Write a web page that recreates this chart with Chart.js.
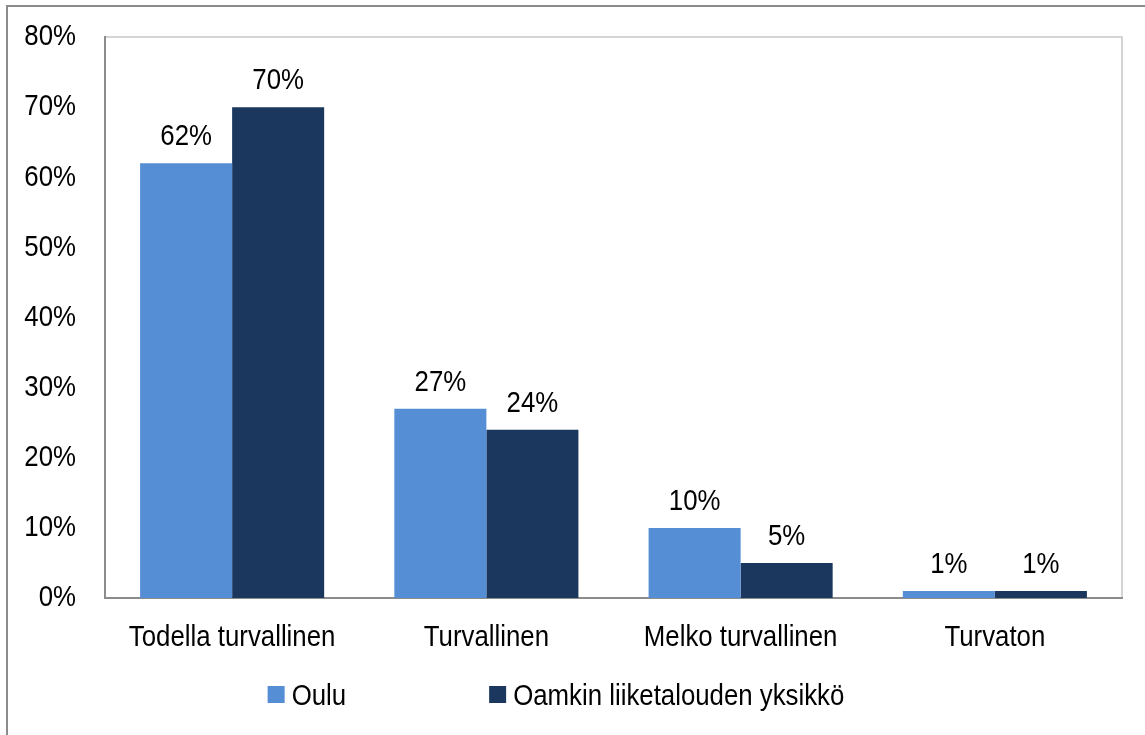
<!DOCTYPE html>
<html>
<head>
<meta charset="utf-8">
<script src="https://cdn.jsdelivr.net/npm/chart.js@4"></script>
<style>
  html, body { margin: 0; padding: 0; background: #fff; }
  canvas { display: block; }
</style>
</head>
<body>
<canvas id="chart" width="1145" height="735"></canvas>
<script>
// data
const categories = ["Todella turvallinen", "Turvallinen", "Melko turvallinen", "Turvaton"];
const ouluValues = [62, 27, 10, 1];
const oamkValues = [70, 24, 5, 1];
const seriesNames = ["Oulu", "Oamkin liiketalouden yksikkö"];
const yTicks = [0, 10, 20, 30, 40, 50, 60, 70, 80];

// no narrow font installed, so squeeze Liberation Sans a bit
const FONT = "30px 'Liberation Sans', Arial, sans-serif";
const SQUEEZE = 0.86;

function narrowText(ctx, text, x, y, align) {
    ctx.save();
    ctx.translate(x, y);
    ctx.scale(SQUEEZE, 1);
    ctx.textAlign = align;
    ctx.fillText(text, 0, 0);
    ctx.restore();
}

// axis labels + value labels, all in the squeezed font
const textLayer = {
    id: 'textLayer',
    afterDatasetsDraw(chart) {
        const ctx = chart.ctx;
        const xs = chart.scales.x, ys = chart.scales.y;
        ctx.save();
        ctx.font = FONT;
        ctx.fillStyle = "#000";

        // y tick labels
        ctx.textBaseline = "middle";
        ys.ticks.forEach(t => {
            narrowText(ctx, t.value + "%", ys.right - 29, ys.getPixelForValue(t.value), "right");
        });

        // category labels
        ctx.textBaseline = "alphabetic";
        chart.data.labels.forEach((lab, i) => {
            narrowText(ctx, lab, xs.getPixelForValue(i), xs.top + 48, "center");
        });

        // values above bars
        chart.data.datasets.forEach((ds, i) => {
            chart.getDatasetMeta(i).data.forEach((bar, j) => {
                narrowText(ctx, ds.data[j] + "%", bar.x, bar.y - 18, "center");
            });
        });
        ctx.restore();
    }
};

// frame lines + legend
const frameAndLegend = {
    id: 'frameAndLegend',
    beforeDraw(chart) {
        const ctx = chart.ctx;
        const a = chart.chartArea;
        ctx.save();
        // outer chart border (only left and top are inside the picture)
        ctx.strokeStyle = "#8c8c8c";
        ctx.lineWidth = 2;
        ctx.beginPath();
        ctx.moveTo(7, chart.height);
        ctx.lineTo(7, 6);
        ctx.lineTo(chart.width, 6);
        ctx.stroke();
        // plot area top and right
        ctx.strokeStyle = "#c8c8c8";
        ctx.lineWidth = 1.5;
        ctx.beginPath();
        ctx.moveTo(a.left, a.top);
        ctx.lineTo(a.right, a.top);
        ctx.lineTo(a.right, a.bottom);
        ctx.stroke();
        ctx.restore();
    },
    afterDraw(chart) {
        const ctx = chart.ctx;
        ctx.save();
        ctx.font = FONT;
        ctx.textBaseline = "alphabetic";
        const box = 17, gap = 7, spacing = 143;
        const widths = chart.data.datasets.map(ds => ctx.measureText(ds.label).width * SQUEEZE);
        const total = widths.reduce((s, w) => s + box + gap + w, 0) + spacing;
        let x = 556 - total / 2;
        const base = 705;
        chart.data.datasets.forEach((ds, i) => {
            ctx.fillStyle = ds.backgroundColor;
            ctx.fillRect(x, base - 19, box, box);
            ctx.fillStyle = "#000";
            narrowText(ctx, ds.label, x + box + gap, base, "left");
            x += box + gap + widths[i] + spacing;
        });
        ctx.restore();
    }
};

new Chart(document.getElementById("chart"), {
    type: "bar",
    data: {
        labels: categories,
        datasets: [
            { label: seriesNames[0], data: ouluValues, backgroundColor: "#558ed5" },
            { label: seriesNames[1], data: oamkValues, backgroundColor: "#1b375e" }
        ]
    },
    options: {
        responsive: false,
        animation: false,
        events: [],
        layout: { padding: { top: 37, right: 23, left: 0, bottom: 0 } },
        datasets: { bar: { categoryPercentage: 0.724, barPercentage: 1.0 } },
        plugins: {
            legend: { display: false },
            tooltip: { enabled: false }
        },
        scales: {
            x: {
                grid: { display: false, drawTicks: false },
                border: { display: true, color: "#8c8c8c", width: 2 },
                ticks: { display: false },
                afterFit(scale) { scale.height = 137; }
            },
            y: {
                min: 0,
                max: 80,
                afterBuildTicks(scale) { scale.ticks = yTicks.map(v => ({ value: v })); },
                grid: { display: false, drawTicks: false },
                border: { display: true, color: "#8c8c8c", width: 2 },
                ticks: { display: false },
                afterFit(scale) {
                    scale.width = 105;
                    scale.paddingTop = 0;
                    scale.paddingBottom = 0;
                }
            }
        }
    },
    plugins: [textLayer, frameAndLegend]
});
</script>
</body>
</html>
